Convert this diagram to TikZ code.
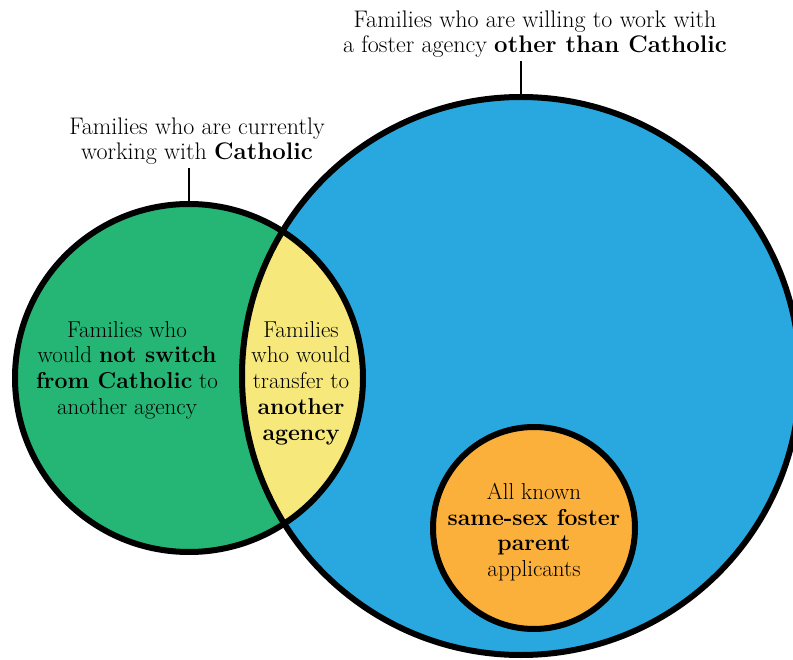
\documentclass[tikz,border=0pt]{standalone}
\usepackage{tikz}
\definecolor{cgreen}{RGB}{37,181,116}
\definecolor{cblue}{RGB}{41,168,224}
\definecolor{cyellow}{RGB}{246,232,122}
\definecolor{corange}{RGB}{251,176,59}
\begin{document}
\begin{tikzpicture}[x=1pt,y=-1pt,
  ring/.style={line width=6pt},
  conn/.style={line width=1.8pt},
  lbl/.style={align=center,inner sep=0pt,font=\fontsize{24}{25.5}\selectfont},
  inner/.style={align=center,inner sep=0pt,font=\fontsize{23}{25.7}\selectfont},
  disc/.style={circle,inner sep=0pt,outer sep=0pt}]
\useasboundingbox (0,0) rectangle (793,660);
\node[disc,fill=cblue,minimum size=558pt] (blue) at (521,376) {};
\node[disc,fill=cgreen,minimum size=348pt] (green) at (189,378) {};
\begin{scope}
  \clip (green.center) circle (174pt);
  \fill[cyellow] (blue.center) circle (279pt);
\end{scope}
\draw[ring] (blue.center) circle (279pt);
\draw[ring] (green.center) circle (174pt);
\node[disc,fill=corange,draw,ring,minimum size=202pt] (orange) at (534,528) {};
\node[lbl] (lblT) at (535,34) {Families who are willing to work with\\a foster agency \textbf{other than Catholic}};
\node[lbl] (lblL) at (197,141) {Families who are currently\\working with \textbf{Catholic}};
\coordinate (tT) at (521,61);
\coordinate (tL) at (189,168);
\draw[conn] (tT) -- (blue.north);
\draw[conn] (tL) -- (green.north);
\node[inner] (tg) at (127,370) {Families who\\would \textbf{not switch}\\\textbf{from Catholic} to\\another agency};
\node[inner] (ty) at (301,383) {Families\\who would\\transfer to\\\textbf{another}\\\textbf{agency}};
\node[inner] (to) at (534,532) {All known\\\textbf{same-sex foster}\\\textbf{parent}\\applicants};
\end{tikzpicture}
\end{document}
